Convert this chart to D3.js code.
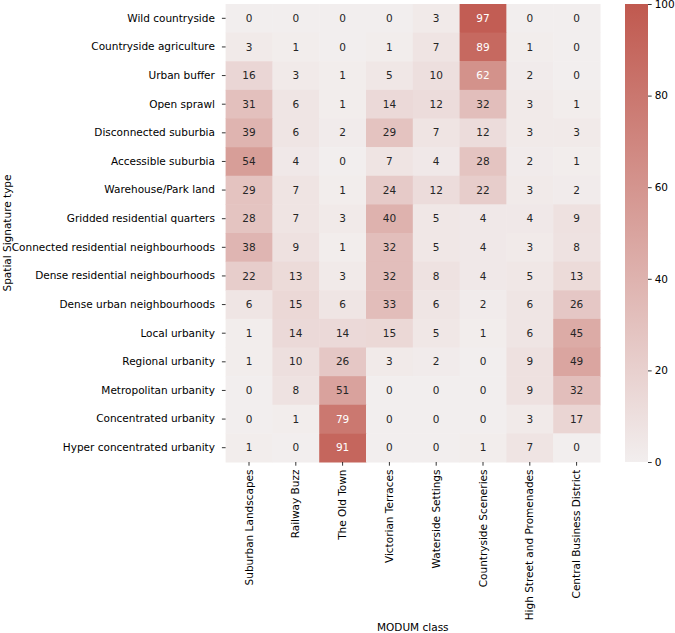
<!DOCTYPE html>
<html>
<head>
<meta charset="utf-8">
<script src="https://cdn.jsdelivr.net/npm/d3@7"></script>
<style>
  body { margin: 0; background: #fff; }
  text { font-family: "DejaVu Sans", sans-serif; }
</style>
</head>
<body>
<div class="chart"></div>
<script>
var rows = ['Wild countryside', 'Countryside agriculture', 'Urban buffer', 'Open sprawl',
  'Disconnected suburbia', 'Accessible suburbia', 'Warehouse/Park land',
  'Gridded residential quarters', 'Connected residential neighbourhoods',
  'Dense residential neighbourhoods', 'Dense urban neighbourhoods', 'Local urbanity',
  'Regional urbanity', 'Metropolitan urbanity', 'Concentrated urbanity',
  'Hyper concentrated urbanity'];

var cols = ['Suburban Landscapes', 'Railway Buzz', 'The Old Town', 'Victorian Terraces',
  'Waterside Settings', 'Countryside Sceneries', 'High Street and Promenades',
  'Central Business District'];

// one array per row, in column order
var values = [
  [0, 0, 0, 0, 3, 97, 0, 0],
  [3, 1, 0, 1, 7, 89, 1, 0],
  [16, 3, 1, 5, 10, 62, 2, 0],
  [31, 6, 1, 14, 12, 32, 3, 1],
  [39, 6, 2, 29, 7, 12, 3, 3],
  [54, 4, 0, 7, 4, 28, 2, 1],
  [29, 7, 1, 24, 12, 22, 3, 2],
  [28, 7, 3, 40, 5, 4, 4, 9],
  [38, 9, 1, 32, 5, 4, 3, 8],
  [22, 13, 3, 32, 8, 4, 5, 13],
  [6, 15, 6, 33, 6, 2, 6, 26],
  [1, 14, 14, 15, 5, 1, 6, 45],
  [1, 10, 26, 3, 2, 0, 9, 49],
  [0, 8, 51, 0, 0, 0, 9, 32],
  [0, 1, 79, 0, 0, 0, 3, 17],
  [1, 0, 91, 0, 0, 1, 7, 0]
];

var barTicks = [0, 20, 40, 60, 80, 100];

var W = 675, H = 633;
var mLeft = 225.6, mTop = 4, mRight = 600, mBottom = 462;
var fs = '10.5px';

var svg = d3.select('.chart')
  .append('svg')
  .attr('width', W)
  .attr('height', H);

var x = d3.scaleBand().domain(cols).range([mLeft, mRight]);
var y = d3.scaleBand().domain(rows).range([mTop, mBottom]);
var color = d3.scaleLinear()
  .domain([0, 100])
  .range(['#f2eeee', '#c0594f'])
  .interpolate(d3.interpolateRgb);

var cells = [];
values.forEach((r, i) => r.forEach((v, j) => cells.push({ row: rows[i], col: cols[j], v: v })));

svg.selectAll('.cell')
  .data(cells)
  .enter()
  .append('rect')
  .attr('class', 'cell')
  .attr('x', d => x(d.col))
  .attr('y', d => y(d.row))
  .attr('width', x.bandwidth() + 0.5)
  .attr('height', y.bandwidth() + 0.5)
  .style('fill', d => color(d.v));

svg.selectAll('.lbl')
  .data(cells)
  .enter()
  .append('text')
  .attr('class', 'lbl')
  .attr('x', d => x(d.col) + x.bandwidth() / 2)
  .attr('y', d => y(d.row) + y.bandwidth() / 2)
  .attr('dy', '0.35em')
  .style('text-anchor', 'middle')
  .style('font-size', fs)
  .style('fill', d => d.v >= 60 ? '#ffffff' : '#262626')
  .text(d => d.v);

// axes
var yAxis = svg.append('g')
  .attr('transform', 'translate(' + mLeft + ',0)')
  .call(d3.axisLeft(y).tickSize(3.7).tickPadding(7));
var xAxis = svg.append('g')
  .attr('transform', 'translate(0,' + mBottom + ')')
  .call(d3.axisBottom(x).tickSize(3.7).tickPadding(3));

[yAxis, xAxis].forEach(a => {
  a.select('.domain').remove();
  a.selectAll('text').style('font-size', fs).style('font-family', 'DejaVu Sans').attr('fill', '#000');
  a.selectAll('line').attr('stroke', '#000').attr('stroke-width', 0.8);
});

xAxis.selectAll('text')
  .attr('transform', 'rotate(-90)')
  .attr('x', -7.5)
  .attr('y', 0)
  .attr('dy', '0.35em')
  .style('text-anchor', 'end');

svg.append('text')
  .attr('transform', 'rotate(-90)')
  .attr('x', -(mTop + mBottom) / 2)
  .attr('y', 11)
  .style('text-anchor', 'middle')
  .style('font-size', fs)
  .text('Spatial Signature type');

svg.append('text')
  .attr('x', (mLeft + mRight) / 2)
  .attr('y', 631)
  .style('text-anchor', 'middle')
  .style('font-size', fs)
  .text('MODUM class');

// colour bar
var cbx = 625, cbw = 23;
var cy = d3.scaleLinear().domain([0, 100]).range([mBottom, mTop]);
var defs = svg.append('defs');
var grad = defs.append('linearGradient')
  .attr('id', 'cbar')
  .attr('x1', 0).attr('y1', 1).attr('x2', 0).attr('y2', 0);
grad.append('stop').attr('offset', '0%').attr('stop-color', color(0));
grad.append('stop').attr('offset', '100%').attr('stop-color', color(100));

svg.append('rect')
  .attr('x', cbx)
  .attr('y', mTop)
  .attr('width', cbw)
  .attr('height', mBottom - mTop)
  .style('fill', 'url(#cbar)');

var cAxis = svg.append('g')
  .attr('transform', 'translate(' + (cbx + cbw) + ',0)')
  .call(d3.axisRight(cy).tickValues(barTicks).tickSize(3.7).tickPadding(3));
cAxis.select('.domain').remove();
cAxis.selectAll('text').style('font-size', fs).style('font-family', 'DejaVu Sans').attr('fill', '#000');
cAxis.selectAll('line').attr('stroke', '#000').attr('stroke-width', 0.8);
</script>
</body>
</html>
